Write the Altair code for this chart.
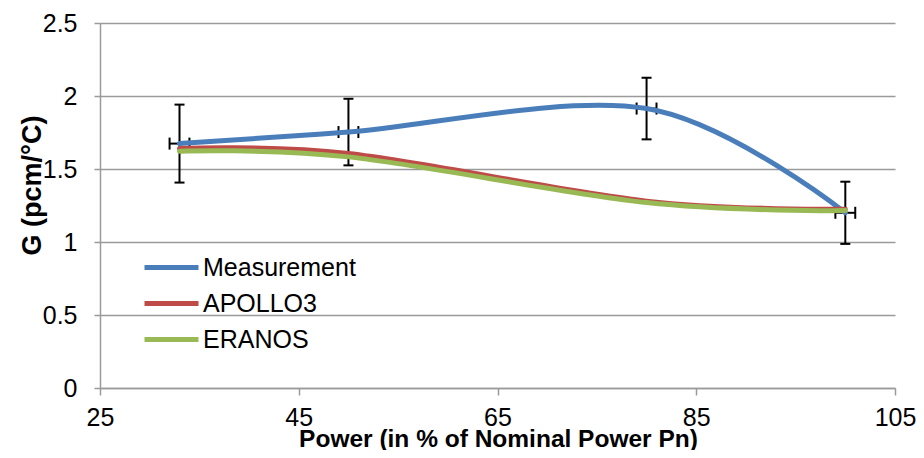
import altair as alt
import pandas as pd

# ---- data ----
power = [33, 50, 80, 100]
measurement = [1.674, 1.753, 1.914, 1.20]
meas_err_y = [0.267, 0.228, 0.211, 0.213]
meas_err_x = [1, 1, 1, 1]
apollo3 = [1.64, 1.606, 1.28, 1.224]
eranos = [1.622, 1.583, 1.27, 1.215]
series = ["Measurement", "APOLLO3", "ERANOS"]
colors = ["#4A7EBB", "#BE4B48", "#98B954"]
x_ticks = [25, 45, 65, 85, 105]
y_ticks = [0, 0.5, 1, 1.5, 2, 2.5]

FONT = "Liberation Sans"
GRAY = "#9A9A9A"

lines_df = pd.DataFrame({
    "power": power * 3,
    "G": measurement + apollo3 + eranos,
    "series": [s for s in series for _ in power],
})
err_df = pd.DataFrame({
    "power": power,
    "G": measurement,
    "ylo": [m - e for m, e in zip(measurement, meas_err_y)],
    "yhi": [m + e for m, e in zip(measurement, meas_err_y)],
    "xlo": [p - e for p, e in zip(power, meas_err_x)],
    "xhi": [p + e for p, e in zip(power, meas_err_x)],
})

x_scale = alt.Scale(domain=[25, 105], nice=False, zero=False)
y_scale = alt.Scale(domain=[0, 2.5], nice=False)
x_axis = alt.Axis(values=x_ticks, title="Power (in % of Nominal Power Pn)",
                  grid=False, tickSize=7, labelPadding=10, labelFlush=False,
                  titleX=398, titleY=58, titleBaseline="alphabetic",
                  titleFontSize=24.5)
y_axis = alt.Axis(values=y_ticks, format=".1~f", title="G (pcm/°C)",
                  grid=True, tickSize=6, labelPadding=17, labelFlush=False,
                  titleX=-68, titleY=162, titleAngle=270,
                  titleBaseline="middle", titleAlign="center",
                  titleFontSize=27)


def X(field):
    return alt.X(field, type="quantitative", scale=x_scale, axis=x_axis)


def Y(field):
    return alt.Y(field, type="quantitative", scale=y_scale, axis=y_axis)


base_err = alt.Chart(err_df)
vbar = base_err.mark_rule(color="black", strokeWidth=2).encode(
    x=X("power"), y=Y("ylo"), y2="yhi")
vcap_top = base_err.mark_rule(color="black", strokeWidth=2, xOffset=-5, x2Offset=5).encode(
    x=X("power"), x2="power", y=Y("yhi"))
vcap_bot = base_err.mark_rule(color="black", strokeWidth=2, xOffset=-5, x2Offset=5).encode(
    x=X("power"), x2="power", y=Y("ylo"))
hbar = base_err.mark_rule(color="black", strokeWidth=2).encode(
    x=X("xlo"), x2="xhi", y=Y("G"))
hcap_l = base_err.mark_rule(color="black", strokeWidth=2, yOffset=-6, y2Offset=6).encode(
    x=X("xlo"), y=Y("G"), y2="G")
hcap_r = base_err.mark_rule(color="black", strokeWidth=2, yOffset=-6, y2Offset=6).encode(
    x=X("xhi"), y=Y("G"), y2="G")

color = alt.Color(
    "series:N",
    scale=alt.Scale(domain=series, range=colors),
    sort=series,
    legend=alt.Legend(
        title=None, orient="none", legendX=55.5, legendY=228.5,
        direction="vertical", labelFont=FONT, labelFontSize=25,
        labelColor="black", symbolType="M-2,0L2,0", symbolSize=729,
        symbolStrokeWidth=5, rowPadding=7, labelOffset=15.5, padding=0,
    ),
)

line_layers = []
for s in series:
    line_layers.append(
        alt.Chart(lines_df).transform_filter(alt.datum.series == s)
        .mark_line(interpolate="cardinal", strokeWidth=5, strokeCap="round")
        .encode(x=X("power"), y=Y("G"), color=color)
    )

chart = alt.layer(vbar, vcap_top, vcap_bot, hbar, hcap_l, hcap_r, *line_layers).properties(
    width=795, height=365,
    autosize=alt.AutoSizeParams(type="none"),
    padding={"left": 92, "top": 15, "right": 21, "bottom": 62},
).configure_view(stroke=None).configure_axis(
    labelFont=FONT, labelFontSize=25, labelColor="black",
    titleFont=FONT, titleFontSize=25, titleFontWeight="bold", titleColor="black",
    domainColor=GRAY, domainWidth=1.5, tickColor=GRAY, tickWidth=1.5,
    gridColor=GRAY, gridWidth=1.5, gridOpacity=1,
).configure_axisX(domain=True).configure_axisY(domain=True)

chart.save("out.html", embed_options={"renderer": "svg", "actions": False})
